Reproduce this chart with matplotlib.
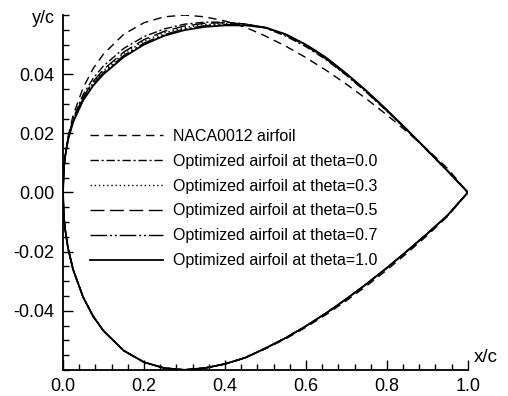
import matplotlib
matplotlib.use("Agg")
import matplotlib.pyplot as plt
from matplotlib.ticker import MultipleLocator, FormatStrFormatter

plt.rcParams['font.family'] = ['Liberation Sans', 'DejaVu Sans']

# chordwise stations
x_up = [0.0, 0.0025, 0.005, 0.0125, 0.025, 0.05, 0.075, 0.1, 0.15, 0.2, 0.25, 0.3,
        0.35, 0.4, 0.45, 0.5, 0.55, 0.6, 0.65, 0.7, 0.75, 0.8, 0.85, 0.9, 0.95, 1.0]

# NACA0012 upper / lower surface
naca_up = [0.0, 0.0087, 0.0122, 0.0189, 0.0261, 0.0355, 0.0420, 0.0468, 0.0535, 0.0574,
           0.0594, 0.0600, 0.0594, 0.0580, 0.0559, 0.0529, 0.0495, 0.0456, 0.0413, 0.0366,
           0.0316, 0.0262, 0.0205, 0.0145, 0.0081, 0.0]
naca_lo = [-v for v in naca_up]

# optimized upper surfaces
opt_up = {
    '0.0': [0.0, 0.0087, 0.0121, 0.0184, 0.0250, 0.0332, 0.0387, 0.0428, 0.0487, 0.0527,
            0.0553, 0.0569, 0.0576, 0.0576, 0.0570, 0.0556, 0.0529, 0.0493, 0.0449, 0.0396,
            0.0338, 0.0275, 0.0209, 0.0141, 0.0072, 0.0],
    '0.3': [0.0, 0.0086, 0.0120, 0.0181, 0.0244, 0.0322, 0.0373, 0.0412, 0.0470, 0.0512,
            0.0540, 0.0558, 0.0568, 0.0571, 0.0568, 0.0558, 0.0534, 0.0499, 0.0455, 0.0401,
            0.0342, 0.0278, 0.0211, 0.0142, 0.0072, 0.0],
    '0.5': [0.0, 0.0086, 0.0120, 0.0181, 0.0245, 0.0324, 0.0376, 0.0416, 0.0475, 0.0517,
            0.0545, 0.0563, 0.0572, 0.0574, 0.0570, 0.0558, 0.0532, 0.0496, 0.0451, 0.0398,
            0.0339, 0.0276, 0.0210, 0.0141, 0.0072, 0.0],
    '0.7': [0.0, 0.0086, 0.0119, 0.0179, 0.0241, 0.0318, 0.0368, 0.0406, 0.0463, 0.0505,
            0.0534, 0.0553, 0.0564, 0.0568, 0.0566, 0.0557, 0.0535, 0.0500, 0.0456, 0.0402,
            0.0343, 0.0279, 0.0212, 0.0143, 0.0073, 0.0],
    '1.0': [0.0, 0.0086, 0.0118, 0.0178, 0.0238, 0.0312, 0.0362, 0.0400, 0.0458, 0.0500,
            0.0530, 0.0549, 0.0560, 0.0565, 0.0565, 0.0558, 0.0535, 0.0500, 0.0456, 0.0402,
            0.0343, 0.0279, 0.0212, 0.0143, 0.0073, 0.0],
}
# lower surface of the optimized shapes (only the aft part moves)
opt_lo = [0.0, -0.0087, -0.0122, -0.0189, -0.0261, -0.0355, -0.0420, -0.0468, -0.0535, -0.0574,
          -0.0594, -0.0600, -0.0594, -0.0580, -0.0559, -0.0527, -0.0492, -0.0452, -0.0408, -0.0360,
          -0.0309, -0.0255, -0.0198, -0.0139, -0.0077, 0.0]

thetas = ['0.0', '0.3', '0.5', '0.7', '1.0']
styles = {
    '0.0': (0, (6, 2, 1.5, 2)),
    '0.3': (0, (1, 2)),
    '0.5': (0, (10, 4)),
    '0.7': (0, (12, 2, 1.5, 2, 1.5, 2)),
    '1.0': '-',
}

fig = plt.figure(figsize=(5.08, 3.96), dpi=100)
ax = fig.add_axes([0.124, 0.066, 0.797, 0.896])

ax.plot(x_up, naca_up, color='black', lw=1.0, ls=(0, (6, 4)), label='NACA0012 airfoil')
ax.plot(x_up, naca_lo, color='black', lw=1.0, ls=(0, (6, 4)))
for th in thetas:
    lw = 1.3 if th == '1.0' else 1.0
    ax.plot(x_up, opt_up[th], color='black', lw=lw, ls=styles[th],
            label=f'Optimized airfoil at theta={th}')
    ax.plot(x_up, opt_lo, color='black', lw=lw, ls=styles[th])

ax.set_xlim(0.0, 1.0)
ax.set_ylim(-0.06, 0.06)
ax.xaxis.set_major_locator(MultipleLocator(0.2))
ax.xaxis.set_minor_locator(MultipleLocator(0.04))
ax.yaxis.set_major_locator(MultipleLocator(0.02))
ax.yaxis.set_minor_locator(MultipleLocator(0.005))
ax.xaxis.set_major_formatter(FormatStrFormatter('%.1f'))
ax.yaxis.set_major_formatter(FormatStrFormatter('%.2f'))
ax.set_yticks([-0.04, -0.02, 0.0, 0.02, 0.04])

for s in ['top', 'right']:
    ax.spines[s].set_visible(False)
for s in ['left', 'bottom']:
    ax.spines[s].set_linewidth(1.3)

ax.tick_params(which='major', direction='in', length=7, width=1.0, labelsize=13, pad=6)
ax.tick_params(which='minor', direction='in', length=4, width=1.0)

ax.text(-0.02, 0.99, 'y/c', transform=ax.transAxes, ha='right', va='center', fontsize=13)
ax.text(1.015, 0.035, 'x/c', transform=ax.transAxes, ha='left', va='center', fontsize=13.5)

ax.legend(loc='upper left', bbox_to_anchor=(0.03, 0.72), frameon=False, fontsize=11.5,
          handlelength=4.6, handletextpad=0.6, labelspacing=0.62)

fig.savefig('out.png', dpi=100)
